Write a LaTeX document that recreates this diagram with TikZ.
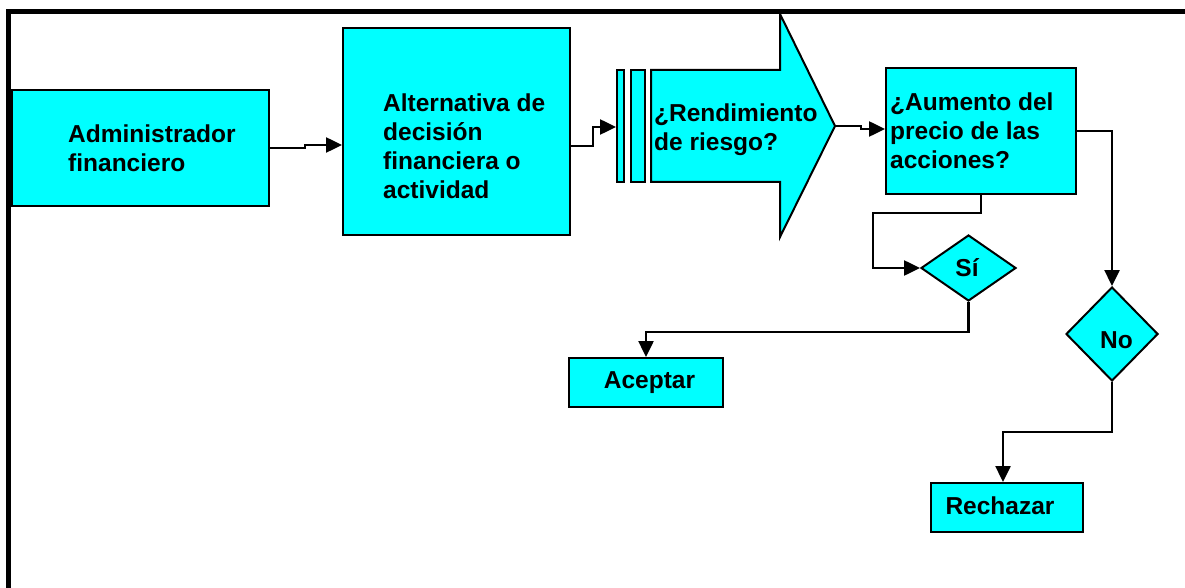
\documentclass[tikz,border=0pt]{standalone}
\usepackage{fontspec}
\setmainfont{Liberation Sans}
\usetikzlibrary{shapes.geometric,arrows.meta}
\definecolor{aqua}{RGB}{0,255,255}
\tikzset{
  caja/.style={draw,fill=aqua,line width=2pt,inner sep=0pt},
  rombo/.style={diamond,draw,fill=aqua,line width=2pt,inner sep=0pt},
  texto/.style={font=\fontsize{24.5}{29}\selectfont\bfseries,align=left,inner sep=0pt},
  flecha/.style={line width=2.5pt,-{Triangle[length=16pt,width=15pt]}},
}
\begin{document}
\begin{tikzpicture}[x=1pt,y=-1pt]
            \useasboundingbox (0,0) rectangle (1185,588);
            \draw[line width=5pt] (8.5,588) -- (8.5,11.5) -- (1185,11.5);

            \node (1) [caja,minimum width=257,minimum height=116] at (140.5,148) {};
            \node (1t) [texto,anchor=west] at (68,148) {Administrador\\financiero};
            \node (2) [caja,minimum width=227,minimum height=207] at (456.5,131.5) {};
            \node (2t) [texto,anchor=west] at (383,146) {Alternativa de\\decisión\\financiera o\\actividad};
            \node (2a) [caja,minimum width=7,minimum height=112] at (620.5,126) {};
            \node (2b) [caja,minimum width=14,minimum height=112] at (638,126) {};
            \draw[line width=2pt,fill=aqua] (651,70) -- (780,70) -- (780,14) -- (835,126)
                coordinate (3) -- (780,237) -- (780,182) -- (651,182) -- cycle;
            \node (3t) [texto,anchor=west] at (654,130) {¿Rendimiento\\de riesgo?};
            \node (4) [caja,minimum width=190,minimum height=126] at (981,131) {};
            \node (4t) [texto,anchor=west] at (890,131) {¿Aumento del\\precio de las\\acciones?};
            \node (5) [rombo,minimum width=95,minimum height=66] at (968.5,268) {};
            \node (5t) [texto] at (967,268) {Sí};
            \node (6) [rombo,minimum width=92,minimum height=94] at (1112,334) {};
            \node (6t) [texto] at (1116.5,340) {No};
            \node (7) [caja,minimum width=154,minimum height=49] at (646,382.5) {};
            \node (7t) [texto] at (649.5,383) {Aceptar};
            \node (8) [caja,minimum width=152,minimum height=49] at (1007,507.5) {};
            \node (8t) [texto] at (1000,506) {Rechazar};

            \coordinate (c1) at (305,145);
            \coordinate (c2) at (593,127);
            \coordinate (c3) at (861,129);
            \coordinate (c4) at (873,213);
            \coordinate (c5) at (1003,432);

            \draw[flecha] (1.east) -- (c1 |- 1.east) -- (c1) -- (2.west |- c1);
            \draw[flecha] (2.east |- 0,146) -- (c2 |- 0,146) -- (c2) -- (2a.west |- c2);
            \draw[flecha] (3) -- (c3 |- 3) -- (c3) -- (4.west |- c3);
            \draw[flecha] (4.south) |- (c4) |- (5.west);
            \draw[flecha] (5.south) -- ++(0,30) -| (7.north);
            \draw[flecha] (4.east) -| (6.north);
            \draw[flecha] (6.south) |- (c5) -- (c5 |- 8.north);

        \end{tikzpicture}
\end{document}
